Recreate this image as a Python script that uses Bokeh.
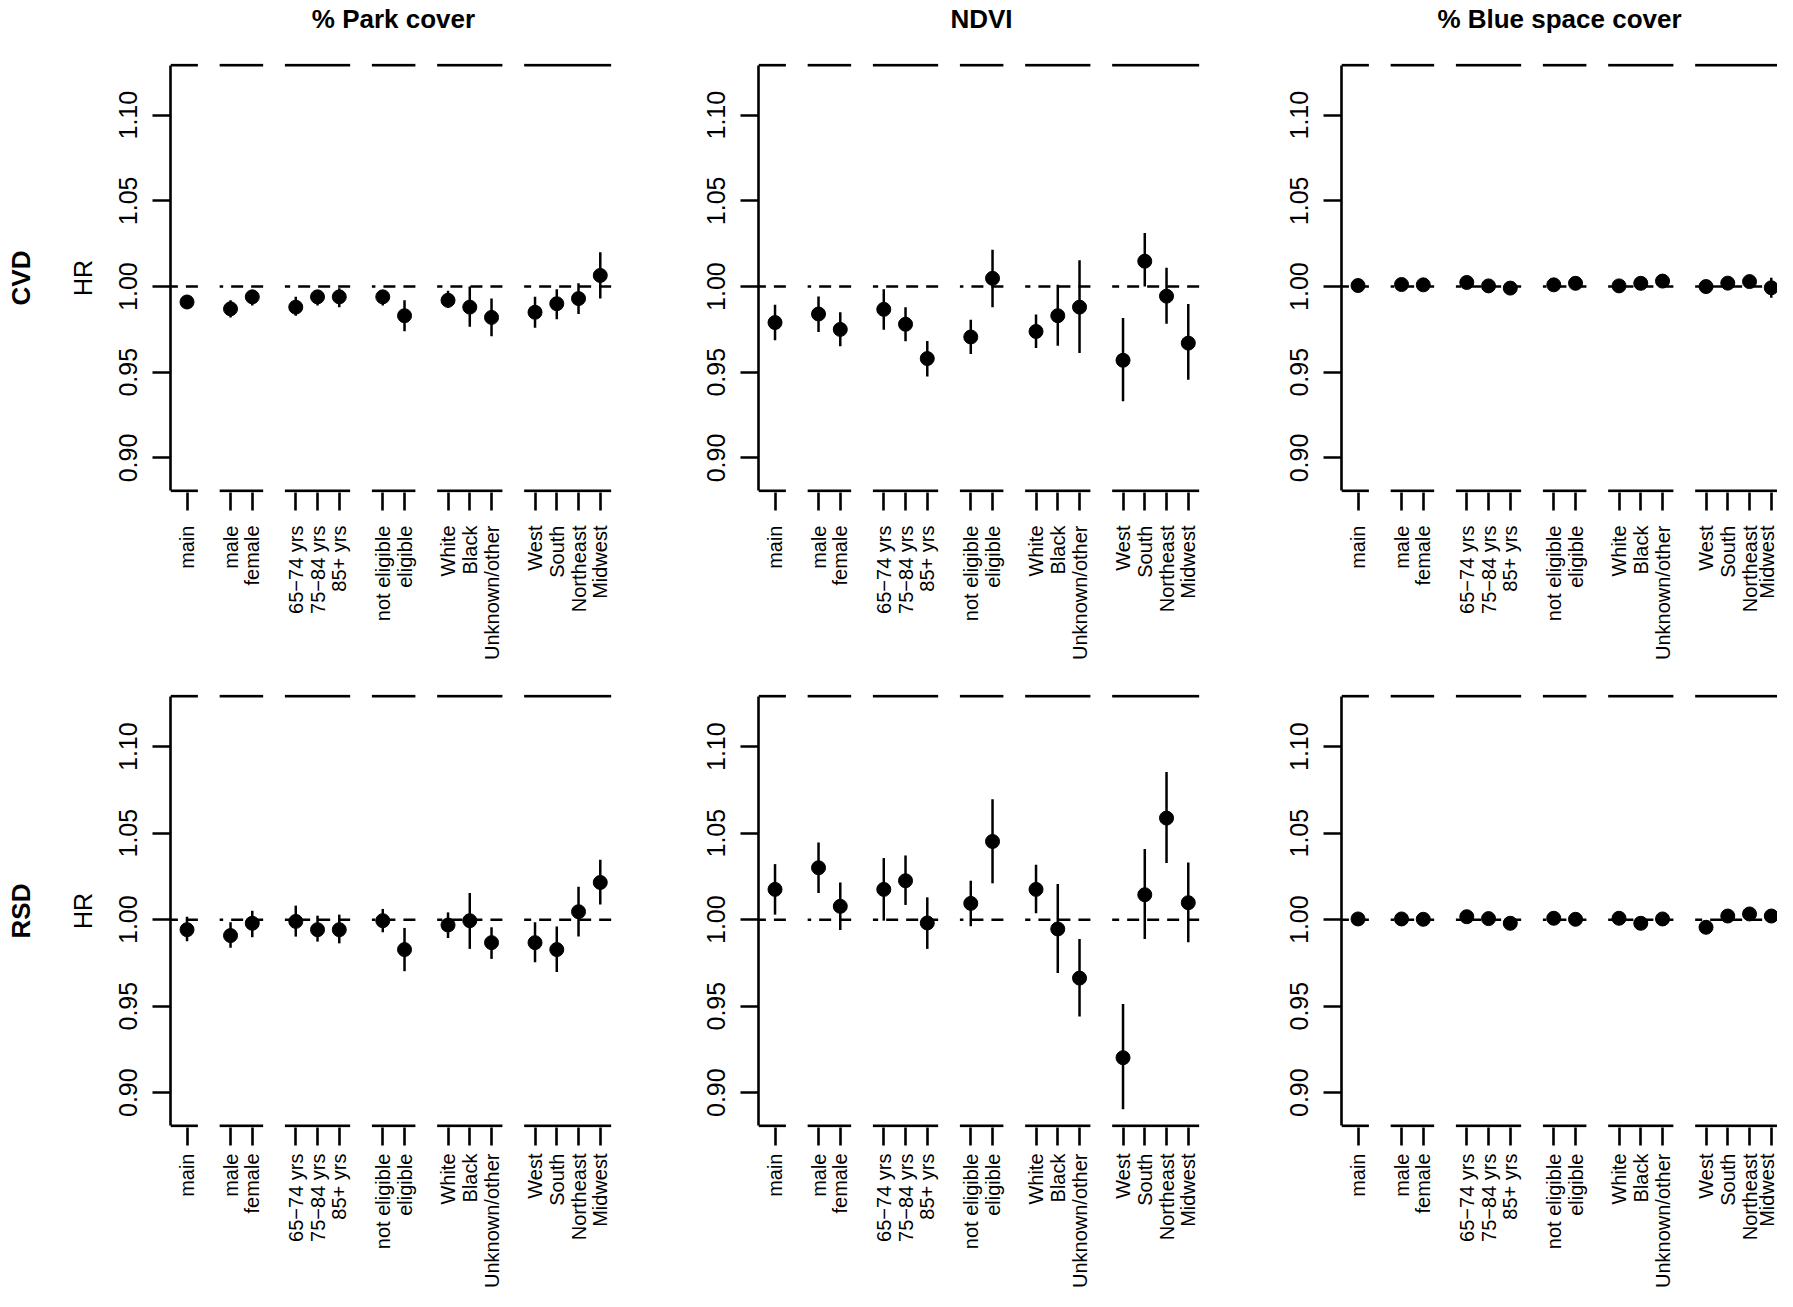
import math
from bokeh.plotting import figure
from bokeh.models import Range1d, FixedTicker, PrintfTickFormatter, LinearAxis, ColumnDataSource
from bokeh.layouts import row, column
from bokeh.embed import file_html
from bokeh.resources import INLINE

# ---------------- data ----------------
groups = [
    ["main"],
    ["male", "female"],
    ["65\u221274 yrs", "75\u221284 yrs", "85+ yrs"],
    ["not eligible", "eligible"],
    ["White", "Black", "Unknown/other"],
    ["West", "South", "Northeast", "Midwest"],
]
exposures = ["% Park cover", "NDVI", "% Blue space cover"]
outcomes = ["CVD", "RSD"]
y_ticks = [0.90, 0.95, 1.00, 1.05, 1.10]

park_cvd_hr = [0.991, 0.987, 0.994, 0.988, 0.994, 0.994, 0.994, 0.983, 0.992, 0.988, 0.982, 0.985, 0.990, 0.993, 1.0065]
park_cvd_lo = [0.987, 0.982, 0.989, 0.983, 0.989, 0.988, 0.989, 0.974, 0.9875, 0.9765, 0.971, 0.976, 0.981, 0.984, 0.993]
park_cvd_hi = [0.995, 0.992, 0.998, 0.994, 0.998, 0.999, 0.998, 0.992, 0.9975, 1.000, 0.993, 0.994, 0.9985, 1.002, 1.020]

ndvi_cvd_hr = [0.979, 0.984, 0.975, 0.9867, 0.978, 0.958, 0.9706, 1.0048, 0.9738, 0.983, 0.988, 0.957, 1.0148, 0.9944, 0.967]
ndvi_cvd_lo = [0.9687, 0.9735, 0.9652, 0.9748, 0.9681, 0.9475, 0.9606, 0.9879, 0.9642, 0.9654, 0.9613, 0.9331, 1.000, 0.9783, 0.9456]
ndvi_cvd_hi = [0.9894, 0.9942, 0.985, 0.9985, 0.9879, 0.9683, 0.9806, 1.0215, 0.9837, 1.001, 1.0154, 0.9817, 1.0312, 1.011, 0.9898]

blue_cvd_hr = [1.0006, 1.0012, 1.001, 1.0024, 1.0004, 0.9991, 1.001, 1.0019, 1.0004, 1.0019, 1.0032, 1.0000, 1.0020, 1.0029, 0.9993]
blue_cvd_lo = [0.9992, 0.9998, 0.9996, 1.0008, 0.9990, 0.9976, 0.9996, 1.0004, 0.9990, 1.0004, 1.0016, 0.9986, 1.0005, 1.0014, 0.9935]
blue_cvd_hi = [1.0020, 1.0026, 1.0024, 1.0040, 1.0018, 1.0006, 1.0024, 1.0034, 1.0018, 1.0034, 1.0048, 1.0014, 1.0035, 1.0044, 1.0052]

park_rsd_hr = [0.9942, 0.9908, 0.9979, 0.999, 0.9942, 0.9942, 0.9994, 0.9827, 0.9969, 0.9994, 0.9867, 0.9867, 0.9827, 1.0046, 1.0215]
park_rsd_lo = [0.9875, 0.9837, 0.9898, 0.9902, 0.9873, 0.9863, 0.9927, 0.9702, 0.9894, 0.9831, 0.9773, 0.9754, 0.9698, 0.9902, 1.0087]
park_rsd_hi = [1.0017, 0.9985, 1.0052, 1.0081, 1.0023, 1.0029, 1.0062, 0.9952, 1.0042, 1.0154, 0.9956, 0.9985, 0.996, 1.019, 1.0346]

ndvi_rsd_hr = [1.0175, 1.030, 1.0077, 1.0175, 1.0225, 0.9981, 1.0094, 1.0452, 1.0175, 0.9946, 0.9662, 0.9202, 1.0144, 1.0587, 1.0098]
ndvi_rsd_lo = [1.0029, 1.0154, 0.994, 0.9994, 1.0085, 0.9831, 0.9962, 1.021, 1.0037, 0.9692, 0.944, 0.8904, 0.9888, 1.0327, 0.9869]
ndvi_rsd_hi = [1.0321, 1.0446, 1.0215, 1.0356, 1.0371, 1.0129, 1.0225, 1.0696, 1.0317, 1.0206, 0.9888, 0.9513, 1.0408, 1.0854, 1.0331]

blue_rsd_hr = [1.0004, 1.0004, 1.0002, 1.0017, 1.0006, 0.9979, 1.0008, 1.0002, 1.0008, 0.9979, 1.0004, 0.9956, 1.0021, 1.0033, 1.0021]
blue_rsd_lo = [0.9990, 0.9990, 0.9988, 1.0002, 0.9992, 0.9964, 0.9994, 0.9988, 0.9994, 0.9964, 0.9990, 0.9925, 1.0006, 1.0018, 0.9982]
blue_rsd_hi = [1.0018, 1.0018, 1.0016, 1.0032, 1.0020, 0.9994, 1.0022, 1.0016, 1.0022, 0.9994, 1.0018, 0.9987, 1.0036, 1.0048, 1.0060]

panel_data = {
    ("CVD", "% Park cover"): (park_cvd_hr, park_cvd_lo, park_cvd_hi),
    ("CVD", "NDVI"): (ndvi_cvd_hr, ndvi_cvd_lo, ndvi_cvd_hi),
    ("CVD", "% Blue space cover"): (blue_cvd_hr, blue_cvd_lo, blue_cvd_hi),
    ("RSD", "% Park cover"): (park_rsd_hr, park_rsd_lo, park_rsd_hi),
    ("RSD", "NDVI"): (ndvi_rsd_hr, ndvi_rsd_lo, ndvi_rsd_hi),
    ("RSD", "% Blue space cover"): (blue_rsd_hr, blue_rsd_lo, blue_rsd_hi),
}

# ---------------- positions from grouping ----------------
xpos, xlabels, g_start, g_end = [], [], [], []
pos = 1
for g in groups:
    first = pos
    for name in g:
        xpos.append(pos)
        xlabels.append(name)
        pos += 1
    g_start.append(first - 0.5)
    g_end.append(pos - 1 + 0.5)
    pos += 1

# R-style axis limits (4% expansion)
XLIM = (min(xpos), max(xpos))
YLIM = (0.89, 1.12)
X0 = XLIM[0] - 0.04 * (XLIM[1] - XLIM[0])
X1 = XLIM[1] + 0.04 * (XLIM[1] - XLIM[0])
Y0 = YLIM[0] - 0.04 * (YLIM[1] - YLIM[0])
Y1 = YLIM[1] + 0.04 * (YLIM[1] - YLIM[0])
g_start[0] = X0

# ---------------- geometry ----------------
FONT = "Liberation Sans"
BORDER_L = [170, 108, 103]
FRAME_W = [446, 446, 436]
BORDER_R = [34, 34, 0]
BORDER_T = [59, 31]
FRAME_H = 434
BORDER_B = [170, 163]
XLAB_STANDOFF = [15, 8]
PXU_X = 21.75
PXU_Y = 1733.9
LW = 2.6


def blank_axis(label, standoff, size):
    ax = LinearAxis(ticker=FixedTicker(ticks=[]))
    ax.axis_line_color = None
    ax.major_tick_out = 0
    ax.major_tick_in = 0
    ax.major_tick_line_color = None
    ax.minor_tick_line_color = None
    ax.major_label_standoff = 0
    ax.axis_label = label
    ax.axis_label_standoff = standoff
    ax.axis_label_text_font = FONT
    ax.axis_label_text_font_size = size
    ax.axis_label_text_font_style = "bold"
    ax.axis_label_text_color = "black"
    return ax


def make_panel(ri, ci):
    outcome = outcomes[ri]
    expo = exposures[ci]
    hr, lo, hi = panel_data[(outcome, expo)]
    L, fw, R = BORDER_L[ci], FRAME_W[ci], BORDER_R[ci]
    T, B = BORDER_T[ri], BORDER_B[ri]
    W, H = L + fw + R, T + FRAME_H + B
    pad = (FRAME_H / PXU_Y - (Y1 - Y0)) / 2
    p = figure(width=W, height=H, x_range=Range1d(X0, X0 + fw / PXU_X),
               y_range=Range1d(Y0 - pad, Y1 + pad),
               toolbar_location=None, output_backend="svg",
               min_border_left=L, min_border_right=R, min_border_top=T, min_border_bottom=B)
    p.title.visible = False
    p.outline_line_color = None
    p.xgrid.visible = False
    p.ygrid.visible = False
    p.background_fill_color = "white"
    p.border_fill_color = "white"

    ya = p.left[0]
    xa = p.below[0]

    # y axis
    ya.ticker = FixedTicker(ticks=y_ticks)
    ya.formatter = PrintfTickFormatter(format="%.2f")
    ya.bounds = (Y0, Y1)
    ya.axis_line_width = LW
    ya.axis_line_color = "black"
    ya.major_tick_out = 18
    ya.major_tick_in = 0
    ya.major_tick_line_width = LW
    ya.minor_tick_line_color = None
    ya.major_label_orientation = "vertical"
    ya.major_label_text_font = FONT
    ya.major_label_text_font_size = "25px"
    ya.major_label_text_color = "black"
    ya.major_label_standoff = 15
    if ci == 0:
        ya.axis_label = "HR"
        ya.axis_label_text_font = FONT
        ya.axis_label_text_font_size = "25px"
        ya.axis_label_text_font_style = "normal"
        ya.axis_label_text_color = "black"
        ya.axis_label_standoff = 20

    # x axis: ticks + labels reading bottom-to-top, ending at the tick
    xa.ticker = FixedTicker(ticks=xpos)
    xa.major_label_overrides = {x: lab for x, lab in zip(xpos, xlabels)}
    xa.axis_line_color = None
    xa.major_tick_out = 18
    xa.major_tick_in = 0
    xa.major_tick_line_width = LW
    xa.minor_tick_line_color = None
    xa.major_label_orientation = math.pi / 2
    xa.major_label_text_font = FONT
    xa.major_label_text_font_size = "20px"
    xa.major_label_text_color = "black"
    xa.major_label_standoff = XLAB_STANDOFF[ri]

    # row label (CVD / RSD) and column title as labels of empty outer axes
    if ci == 0:
        p.add_layout(blank_axis(outcome, 30, "26px"), "left")
    if ri == 0:
        ta = blank_axis(expo, 30, "26px")
        ta.bounds = (X0, X1)
        p.add_layout(ta, "above")

    # broken top / bottom frame lines per group
    n = len(groups)
    for yv in (Y0, Y1):
        p.segment(x0=g_start, y0=[yv] * n, x1=g_end, y1=[yv] * n,
                  line_color="black", line_width=LW)
    # reference line at HR = 1, drawn per group (right to left, as in the original)
    p.segment(x0=g_end, y0=[1.0] * n, x1=g_start, y1=[1.0] * n,
              line_color="black", line_width=2.5, line_dash="12 8")

    src = ColumnDataSource(dict(x=xpos, hr=hr, lo=lo, hi=hi))
    p.segment(x0="x", y0="lo", x1="x", y1="hi", source=src, line_color="black", line_width=2.5)
    p.scatter(x="x", y="hr", source=src, size=14, fill_color="black", line_color="black")
    return p


rows = []
for ri in range(2):
    rows.append(row([make_panel(ri, ci) for ci in range(3)], spacing=0))
layout = column(rows, spacing=0)

open("out.html", "w").write(file_html(layout, INLINE))
